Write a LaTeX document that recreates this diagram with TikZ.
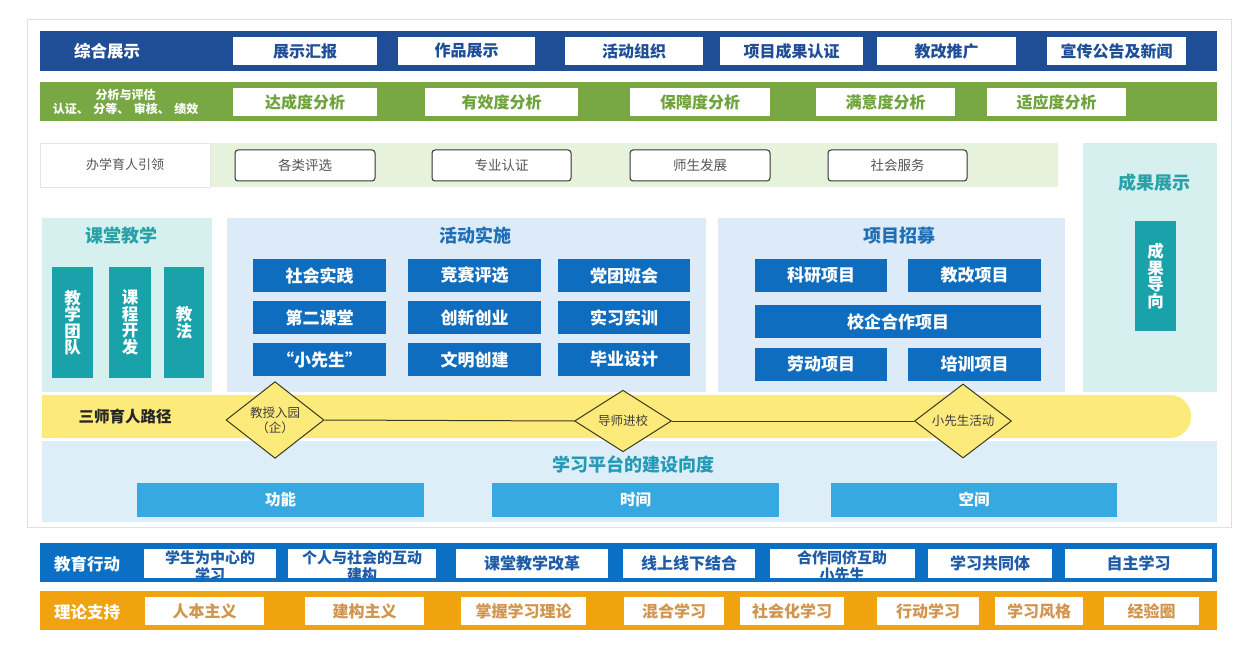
\documentclass[tikz,border=0pt]{standalone}
\usepackage{fontspec}
\setmainfont{Noto Sans CJK SC}
\usetikzlibrary{shapes.geometric}
\definecolor{topblue}{HTML}{1F4E96}
\definecolor{grn}{HTML}{77A843}
\definecolor{grntxt}{HTML}{6FA33C}
\definecolor{lgrn}{HTML}{E6F2DC}
\definecolor{lteal}{HTML}{D5F0EE}
\definecolor{teal}{HTML}{19A2A9}
\definecolor{tealtxt}{HTML}{28A1A7}
\definecolor{lblue}{HTML}{DDEBF8}
\definecolor{mblue}{HTML}{0F6DBF}
\definecolor{ptitle}{HTML}{1F6FB6}
\definecolor{yel}{HTML}{FCEA7A}
\definecolor{plat}{HTML}{DDEEF9}
\definecolor{plattitle}{HTML}{2599B5}
\definecolor{platbox}{HTML}{35A9E0}
\definecolor{botblue}{HTML}{0B70C3}
\definecolor{botbluetxt}{HTML}{1E5CA8}
\definecolor{orng}{HTML}{F0A20F}
\definecolor{orngtxt}{HTML}{D1954F}
\definecolor{graytxt}{HTML}{555555}
\definecolor{dline}{HTML}{3C3A1E}
\newcommand\mybox[7]{\node[#1, minimum width={(#5)-(#3)}, minimum height={(#6)-(#4)}] (#2) at ({((#3)+(#5))/2},{((#4)+(#6))/2}) {#7};}
\begin{document}
\begin{tikzpicture}[x=1pt,y=-1pt,
  base/.style={inner sep=0pt, outer sep=0pt, align=center},
  band/.style={base, fill=#1},
  wbox/.style={base, fill=white, text=#1, font=\bfseries\fontsize{16}{18}\selectfont},
  bartitle/.style={base, text=white, font=\bfseries\fontsize{16.5}{18}\selectfont},
  obox/.style={base, fill=white, draw=black!80, line width=1pt, rounded corners=3pt, text=graytxt, font=\fontsize{13.5}{15}\selectfont},
  ptl/.style={base, text=#1, font=\bfseries\fontsize{18}{20}\selectfont},
  bbox/.style={base, fill=mblue, text=white, font=\bfseries\fontsize{17}{19}\selectfont},
  vbox/.style={base, fill=teal, text=white, font=\bfseries\fontsize{16.5}{16.5}\selectfont},
  dia/.style={diamond, draw=dline, line width=1pt, fill=yel, inner sep=0pt, text=black!75, align=center, font=\fontsize{12.5}{15}\selectfont},
  pbox/.style={base, fill=platbox, text=white, font=\bfseries\fontsize{15.5}{17}\selectfont},
  twoline/.style={base, text=botbluetxt, font=\bfseries\fontsize{15}{17}\selectfont}
]
\useasboundingbox (0,0) rectangle (1257,652);
\fill[white] (0,0) rectangle (1257,652);
% outer frame
\draw[black!12, line width=1pt] (27,20) rectangle (1231,527);

% row 1
\mybox{band=topblue}{bar1}{40}{31}{1217}{71}{}
\node[bartitle] (l1) at (107,51) {综合展示};
\mybox{wbox=topblue}{t1}{233}{37}{377}{65}{展示汇报}
\mybox{wbox=topblue}{t2}{398}{37}{535}{65}{作品展示}
\mybox{wbox=topblue}{t3}{565}{37}{703}{65}{活动组织}
\mybox{wbox=topblue}{t4}{720}{37}{863}{65}{项目成果认证}
\mybox{wbox=topblue}{t5}{877}{37}{1016}{65}{教改推广}
\mybox{wbox=topblue}{t6}{1047}{37}{1186}{65}{宣传公告及新闻}

% row 2
\mybox{band=grn}{bar2}{40}{82}{1217}{121}{}
\node[base, text=white, font=\bfseries\fontsize{12}{14}\selectfont] (l2) at (125.5,101.5) {分析与评估\\认证、\hspace{4.5pt}分等、\hspace{4.5pt}审核、\hspace{4.5pt}绩效};
\mybox{wbox=grntxt}{g1}{233}{88}{377}{116}{达成度分析}
\mybox{wbox=grntxt}{g2}{425}{88}{578}{116}{有效度分析}
\mybox{wbox=grntxt}{g3}{630}{88}{770}{116}{保障度分析}
\mybox{wbox=grntxt}{g4}{816}{88}{955}{116}{满意度分析}
\mybox{wbox=grntxt}{g5}{987}{88}{1126}{116}{适应度分析}

% row 3
\mybox{band=lgrn}{bar3}{210}{143}{1058}{187}{}
\mybox{base, fill=white, draw=black!10, text=graytxt, font=\fontsize{13}{15}\selectfont}{l3}{40}{143}{210}{187}{办学育人引领}
\mybox{obox}{o1}{235}{150}{375}{181}{各类评选}
\mybox{obox}{o2}{432}{150}{571}{181}{专业认证}
\mybox{obox}{o3}{630}{150}{770}{181}{师生发展}
\mybox{obox}{o4}{828}{150}{967}{181}{社会服务}

% result panel
\mybox{band=lteal}{pres}{1083}{143}{1217}{392}{}
\node[ptl=tealtxt] (presT) at (1154,183) {成果展示};
\mybox{vbox}{cgdx}{1135}{221}{1176}{331}{成\\果\\导\\向}

% classroom panel
\mybox{band=lteal}{pcls}{42}{218}{212}{392}{}
\node[ptl=tealtxt] (pclsT) at (121.5,236) {课堂教学};
\mybox{vbox}{v1}{52}{267}{93}{378}{教\\学\\团\\队}
\mybox{vbox}{v2}{109}{267}{151}{378}{课\\程\\开\\发}
\mybox{vbox}{v3}{164}{267}{204}{378}{教\\法}

% activity panel
\mybox{band=lblue}{pact}{227}{218}{706}{392}{}
\node[ptl=ptitle] (pactT) at (475,236) {活动实施};
\mybox{bbox}{a1}{253}{259}{386}{292}{社会实践}
\mybox{bbox}{a2}{408}{259}{541}{292}{竞赛评选}
\mybox{bbox}{a3}{558}{259}{690}{292}{党团班会}
\mybox{bbox}{a4}{253}{301}{386}{334}{第二课堂}
\mybox{bbox}{a5}{408}{301}{541}{334}{创新创业}
\mybox{bbox}{a6}{558}{301}{690}{334}{实习实训}
\mybox{bbox}{a7}{253}{343}{386}{376}{“小先生”}
\mybox{bbox}{a8}{408}{343}{541}{376}{文明创建}
\mybox{bbox}{a9}{558}{343}{690}{376}{毕业设计}

% project panel
\mybox{band=lblue}{pprj}{718}{218}{1065}{392}{}
\node[ptl=ptitle] (pprjT) at (899,236) {项目招募};
\mybox{bbox}{p1}{755}{259}{887}{292}{科研项目}
\mybox{bbox}{p2}{908}{259}{1041}{292}{教改项目}
\mybox{bbox}{p3}{755}{305}{1041}{338}{校企合作项目}
\mybox{bbox}{p4}{755}{348}{887}{381}{劳动项目}
\mybox{bbox}{p5}{908}{348}{1041}{381}{培训项目}

% platform panel
\mybox{band=plat}{plat}{42}{441}{1217}{522}{}
\node[ptl=plattitle] (platT) at (633,464) {学习平台的建设向度};
\mybox{pbox}{f1}{137}{483}{424}{517}{功能}
\mybox{pbox}{f2}{492}{483}{779}{517}{时间}
\mybox{pbox}{f3}{831}{483}{1117}{517}{空间}

% yellow path
\fill[yel, rounded corners=21pt] (42,395) rectangle (1191,438);
\mybox{band=yel}{ybar}{42}{395}{120}{438}{}
\node[base, text=black!85, font=\bfseries\fontsize{15.5}{17}\selectfont] (yT) at (125,416) {三师育人路径};
\node[dia, minimum width=98pt, minimum height=56pt] (d1) at (275,420) {教授入园\\（企）};
\node[dia, minimum width=97pt, minimum height=52pt] (d2) at (623,421) {导师进校};
\node[dia, minimum width=97pt, minimum height=52pt] (d3) at (963,421) {小先生活动};
\draw[dline, line width=1pt] (d1.east) -- (d2.west);
\draw[dline, line width=1pt] (d2.east) -- (d3.west);

% education action
\mybox{band=botblue}{bar4}{40}{543}{1217}{582}{}
\node[bartitle] (l4) at (87,564) {教育行动};
\begin{scope}
\clip (144,549) rectangle (276,578);
\mybox{wbox=botbluetxt}{e1}{144}{549}{276}{578}{}
\node[twoline] (e1t) at (210,566) {学生为中心的\\学习};
\end{scope}
\begin{scope}
\clip (288,549) rectangle (436,578);
\mybox{wbox=botbluetxt}{e2}{288}{549}{436}{578}{}
\node[twoline] (e2t) at (362,566) {个人与社会的互动\\建构};
\end{scope}
\mybox{wbox=botbluetxt}{e3}{456}{549}{608}{578}{课堂教学改革}
\mybox{wbox=botbluetxt}{e4}{623}{549}{755}{578}{线上线下结合}
\begin{scope}
\clip (770,549) rectangle (915,578);
\mybox{wbox=botbluetxt}{e5}{770}{549}{915}{578}{}
\node[twoline] (e5t) at (842,566) {合作同侪互助\\小先生};
\end{scope}
\mybox{wbox=botbluetxt}{e6}{928}{549}{1052}{578}{学习共同体}
\mybox{wbox=botbluetxt}{e7}{1065}{549}{1212}{578}{自主学习}

% theory support
\mybox{band=orng}{bar5}{40}{591}{1217}{630}{}
\node[bartitle] (l5) at (87,612) {理论支持};
\mybox{wbox=orngtxt}{s1}{145}{597}{264}{625}{人本主义}
\mybox{wbox=orngtxt}{s2}{305}{597}{424}{625}{建构主义}
\mybox{wbox=orngtxt}{s3}{461}{597}{586}{625}{掌握学习理论}
\mybox{wbox=orngtxt}{s4}{624}{597}{724}{625}{混合学习}
\mybox{wbox=orngtxt}{s5}{740}{597}{844}{625}{社会化学习}
\mybox{wbox=orngtxt}{s6}{877}{597}{979}{625}{行动学习}
\mybox{wbox=orngtxt}{s7}{995}{597}{1083}{625}{学习风格}
\mybox{wbox=orngtxt}{s8}{1104}{597}{1199}{625}{经验圈}
\end{tikzpicture}
\end{document}
